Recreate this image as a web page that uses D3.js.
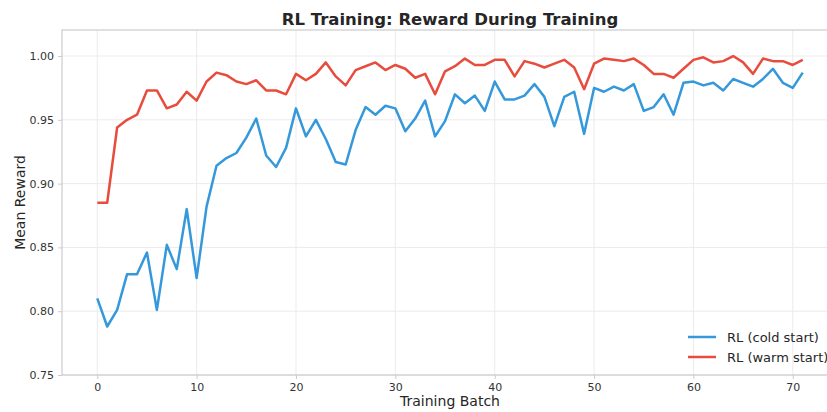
<!DOCTYPE html>
<html><head><meta charset="utf-8">
<script src="https://cdn.jsdelivr.net/npm/d3@7"></script>
<style>body{margin:0;background:#fff}svg{display:block}text{font-family:"DejaVu Sans",sans-serif}</style>
</head><body><svg id="c" width="827" height="412"></svg>
<script>
const batches = d3.range(0, 72);
const coldStart = [0.810,0.788,0.801,0.829,0.829,0.846,0.801,0.852,0.833,0.880,
0.826,0.882,0.914,0.920,0.924,0.936,0.951,0.922,0.913,0.928,
0.959,0.937,0.950,0.935,0.917,0.915,0.942,0.960,0.954,0.961,
0.959,0.941,0.951,0.965,0.937,0.949,0.970,0.963,0.969,0.957,
0.980,0.966,0.966,0.969,0.978,0.968,0.945,0.968,0.972,0.939,
0.975,0.972,0.976,0.973,0.978,0.957,0.960,0.970,0.954,0.979,
0.980,0.977,0.979,0.973,0.982,0.979,0.976,0.982,0.990,0.979,
0.975,0.987];
const warmStart = [0.885,0.885,0.944,0.950,0.954,0.973,0.973,0.959,0.962,0.972,
0.965,0.980,0.987,0.985,0.980,0.978,0.981,0.973,0.973,0.970,
0.986,0.981,0.986,0.995,0.984,0.977,0.989,0.992,0.995,0.989,
0.993,0.990,0.983,0.986,0.970,0.988,0.992,0.998,0.993,0.993,
0.997,0.997,0.984,0.996,0.994,0.991,0.994,0.997,0.991,0.974,
0.994,0.998,0.997,0.996,0.998,0.993,0.986,0.986,0.983,0.990,
0.997,0.999,0.995,0.996,1.000,0.995,0.986,0.998,0.996,0.996,
0.993,0.997];
const seriesNames = ["RL (cold start)", "RL (warm start)"];
const seriesColors = ["#3498db", "#e74c3c"];
const xTicks = [0,10,20,30,40,50,60,70];
const yTicks = [0.75,0.80,0.85,0.90,0.95,1.00];

const svg = d3.select("#c");
const L = 62, R = 838, T = 30, B = 375;
const x = d3.scaleLinear().domain([-3.55, 74.55]).range([L, R]);
const y = d3.scaleLinear().domain([0.75, 1.0204]).range([B, T]);

// grid
svg.append("g").selectAll("line").data(xTicks).join("line")
  .attr("x1", d=>x(d)).attr("x2", d=>x(d)).attr("y1", T).attr("y2", B)
  .attr("stroke", "#ebebeb").attr("stroke-width", 1);
svg.append("g").selectAll("line").data(yTicks).join("line")
  .attr("x1", L).attr("x2", R).attr("y1", d=>y(d)).attr("y2", d=>y(d))
  .attr("stroke", "#ebebeb").attr("stroke-width", 1);

// axes
const xAxis = svg.append("g").attr("transform", `translate(0,${B})`)
  .call(d3.axisBottom(x).tickValues(xTicks).tickFormat(d3.format("d")).tickSize(4).tickPadding(4));
const yAxis = svg.append("g").attr("transform", `translate(${L},0)`)
  .call(d3.axisLeft(y).tickValues(yTicks).tickFormat(d3.format(".2f")).tickSize(4).tickPadding(4));
[xAxis, yAxis].forEach(a => {
  a.select(".domain").remove();
  a.selectAll("line").attr("stroke", "#cccccc");
  a.selectAll("text").attr("fill", "#333").style("font-size", "11px").style("font-family", "DejaVu Sans");
});
// frame
svg.append("rect").attr("x", L).attr("y", T).attr("width", R-L).attr("height", B-T)
  .attr("fill", "none").attr("stroke", "#cccccc").attr("stroke-width", 1.2);

const line = d3.line().x((d,i)=>x(batches[i])).y(d=>y(d));
[coldStart, warmStart].forEach((s, k) => {
  svg.append("path").datum(s).attr("d", line).attr("fill", "none")
    .attr("stroke", seriesColors[k]).attr("stroke-width", 2.5)
    .attr("stroke-linejoin", "round").attr("stroke-linecap", "butt");
});

// title & labels
svg.append("text").attr("x", (L+R)/2).attr("y", 25).attr("text-anchor", "middle")
  .style("font-size", "16.5px").style("font-weight", "bold").attr("fill", "#262626")
  .text("RL Training: Reward During Training");
svg.append("text").attr("x", (L+R)/2).attr("y", 405.5).attr("text-anchor", "middle")
  .style("font-size", "14px").attr("fill", "#262626").text("Training Batch");
svg.append("text").attr("transform", `translate(25,${(T+B)/2}) rotate(-90)`).attr("text-anchor", "middle")
  .style("font-size", "14px").attr("fill", "#262626").text("Mean Reward");

// legend
const lg = svg.append("g");
seriesNames.forEach((n, k) => {
  const yy = 337 + k*20;
  lg.append("line").attr("x1", 688).attr("x2", 716).attr("y1", yy).attr("y2", yy)
    .attr("stroke", seriesColors[k]).attr("stroke-width", 2.5);
  lg.append("text").attr("x", 727).attr("y", yy + 4.5).style("font-size", "13px")
    .attr("fill", "#262626").text(n);
});
</script></body></html>
